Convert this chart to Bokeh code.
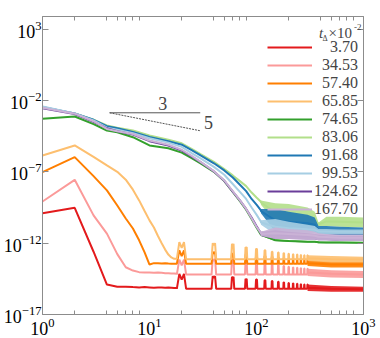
from bokeh.plotting import figure
from bokeh.models import (LogAxis, FixedTicker, Legend, LegendItem, Label, Range1d,
                          CustomJSTickFormatter)
from bokeh.embed import file_html
from bokeh.resources import INLINE

# ---------------- data (log10 of the plotted quantity) ----------------
labels = ["3.70", "34.53", "57.40", "65.85", "74.65", "83.06", "91.68", "99.53", "124.62", "167.70"]
colors = ["#e31a1c", "#fb9a99", "#ff7f00", "#fdbf6f", "#33a02c", "#b2df8a",
          "#1f78b4", "#a6cee3", "#6a3d9a", "#cab2d6"]

# lower group, smooth part
low_x = [1, 2, 3, 4, 5, 6, 7, 8, 9, 10, 11, 12, 13, 14, 15, 16, 17, 18]
red_log = [-9.9, -9.52, -12.6, -14.9, -15.05, -15.05, -15.08, -15.1, -15.08, -15.1,
           -15.12, -15.1, -15.1, -15.12, -15.1, -15.12, -15.15, -15.15]
pink_log = [-9.08, -7.56, -10.05, -11.33, -12.77, -13.69, -13.92, -14.03, -14.05, -14.05,
            -14.07, -14.06, -14.08, -14.1, -14.1, -14.12, -14.12, -14.15]
orange_log = [-7.02, -5.97, -7.3, -8.3, -9.36, -10.27, -10.97, -11.8, -12.65, -13.5,
              -13.4, -13.4, -13.42, -13.4, -13.43, -13.45, -13.45, -13.45]
lorange_log = [-5.85, -5.15, -5.95, -6.55, -7.0, -7.55, -8.25, -9.0, -9.75, -10.4,
               -10.9, -11.5, -12.0, -12.45, -12.8, -13.0, -13.1, -13.1]

# periodic spikes of the lower group
spike_x = [20, 40, 60, 80, 100, 120, 140, 160, 180, 200, 220, 240, 260, 280, 300]
spike_dip = [0.4, 0.15, 0.1, 0.05, 0.0, 0.0, 0.0, 0.0, 0.0, 0.0, 0.0, 0.0, 0.0, 0.0, 0.0]
red_base, pink_base, orange_base, lorange_base = -15.2, -14.2, -13.45, -13.12
red_peak = [-14.15, -14.3, -14.35, -14.5, -14.55, -14.6, -14.65, -14.7, -14.75, -14.8,
            -14.82, -14.85, -14.88, -14.9, -14.9]
pink_peak = [-13.15, -13.1, -13.15, -13.3, -13.4, -13.45, -13.5, -13.55, -13.6, -13.65,
             -13.7, -13.72, -13.75, -13.78, -13.8]
orange_peak = [-12.5, -12.6, -12.7, -12.8, -12.85, -12.9, -12.95, -13.0, -13.05, -13.1,
               -13.12, -13.15, -13.18, -13.2, -13.2]
lorange_peak = [-11.93, -12.0, -12.05, -12.28, -12.4, -12.5, -12.6, -12.65, -12.7, -12.75,
                -12.78, -12.8, -12.83, -12.85, -12.85]

# dense oscillation band of the lower group (envelope)
lband_x = [300, 500, 1000]
red_lo, red_hi = [-15.35, -15.4, -15.4], [-14.9, -15.0, -15.05]
pink_lo, pink_hi = [-14.3, -14.4, -14.45], [-13.8, -13.9, -13.95]
orange_lo, orange_hi = [-13.6, -13.7, -13.7], [-13.2, -13.3, -13.3]
lorange_lo, lorange_hi = [-13.25, -13.35, -13.35], [-12.85, -12.9, -12.95]

# upper group, smooth part
up_x = [1, 2, 3, 4, 5, 7, 10, 15, 20, 25, 30, 40, 50, 60, 70, 80, 90, 100, 110]
green_log = [-3.28, -3.12, -3.65, -4.1, -4.22, -4.57, -5.15, -5.35, -5.65, -6.05, -6.4,
             -7.0, -7.65, -8.4, -9.05, -9.65, -10.3, -10.9, -11.4]
lgreen_log = [-2.5, -2.9, -3.35, -3.75, -3.9, -4.1, -4.45, -4.75, -5.0, -5.4, -5.75,
              -6.3, -6.8, -7.25, -7.65, -8.0, -8.45, -8.8, -9.1]
blue_log = [-2.45, -2.9, -3.35, -3.8, -3.95, -4.2, -4.55, -4.85, -5.1, -5.5, -5.85,
            -6.4, -6.9, -7.4, -7.9, -8.35, -8.9, -9.3, -9.7]
lblue_log = [-2.42, -2.9, -3.4, -3.9, -4.05, -4.3, -4.65, -4.95, -5.25, -5.7, -6.05,
             -6.65, -7.2, -7.85, -8.4, -8.9, -9.5, -10.0, -10.5]
purple_log = [-2.55, -2.95, -3.5, -3.95, -4.15, -4.38, -4.85, -5.15, -5.5, -5.95, -6.32,
              -6.97, -7.63, -8.38, -9.0, -9.6, -10.2, -10.8, -11.3]
lavender_log = [-2.5, -2.92, -3.45, -3.99, -4.15, -4.35, -4.8, -5.1, -5.45, -5.9, -6.3,
                -6.95, -7.6, -8.35, -9.0, -9.6, -10.25, -10.85, -11.3]

# oscillation band of the upper group (envelope)
env_x = [110, 150, 200, 300, 350, 380, 450, 600, 1000]
green_lo = [-11.5, -11.85, -11.9, -11.95, -11.95, -12.0, -12.0, -12.0, -12.02]
green_hi = [-11.3, -11.75, -11.8, -11.85, -11.85, -11.88, -11.9, -11.9, -11.92]
lgreen_lo = [-9.3, -10.5, -10.7, -10.8, -10.8, -10.8, -10.8, -10.85, -10.9]
lgreen_hi = [-9.0, -9.2, -9.25, -9.5, -9.8, -10.55, -10.15, -10.15, -10.2]
blue_lo = [-9.9, -11.2, -11.2, -11.2, -11.2, -11.35, -11.4, -11.45, -11.45]
blue_hi = [-9.6, -9.6, -9.8, -10.0, -10.2, -10.8, -10.8, -10.85, -10.9]
lblue_lo = [-10.7, -11.4, -11.4, -11.35, -11.3, -11.35, -11.35, -11.35, -11.35]
lblue_hi = [-10.4, -10.3, -10.5, -10.7, -10.8, -11.0, -11.0, -11.05, -11.05]
purple_lo = [-11.5, -11.7, -11.7, -11.75, -11.75, -11.8, -11.8, -11.85, -11.85]
purple_hi = [-11.2, -11.1, -11.2, -11.3, -11.35, -11.4, -11.45, -11.5, -11.5]
lavender_lo = [-11.5, -11.7, -11.7, -11.75, -11.75, -11.8, -11.8, -11.85, -11.85]
lavender_hi = [-11.2, -10.9, -11.0, -11.1, -11.2, -11.3, -11.35, -11.4, -11.4]

# slope triangle (3/5) annotation
slope_x = [4.24, 29.8]
slope_y_top = [-2.86, -2.86]
slope_y_end = [-2.86, -4.12]

x_major = [1, 10, 100, 1000]
x_minor = [2, 4, 5, 6, 7, 8, 20, 40, 50, 60, 70, 80, 200, 400, 500, 600, 700, 800]
y_major = [1e-17, 1e-12, 1e-7, 1e-2, 1e3]

# ---------------- figure ----------------
GRAY = "#8c8c8c"
SERIF = "'Liberation Serif', 'DejaVu Serif', serif"

# frame position on the page (used for screen-unit annotations)
FRAME_L = 38
FRAME_B = 314

p = figure(x_axis_type="log", y_axis_type="log",
           x_range=Range1d(1, 1000), y_range=Range1d(1e-17, 10 ** 3.89),
           width=380, height=338,
           min_border_left=38, min_border_right=17, min_border_top=16, min_border_bottom=24,
           output_backend="svg", toolbar_location=None)
p.grid.visible = False
p.outline_line_color = GRAY
p.background_fill_color = "white"

p.add_layout(LogAxis(), "above")
p.add_layout(LogAxis(), "right")

for ax in p.xaxis:
    ax.ticker = FixedTicker(ticks=x_major, minor_ticks=x_minor)
    ax.major_tick_in = 0
for ax in p.yaxis:
    ax.ticker = FixedTicker(ticks=y_major, minor_ticks=[])
    ax.major_tick_in = 6
for ax in p.xaxis + p.yaxis:
    ax.axis_line_color = GRAY
    ax.major_tick_line_color = GRAY
    ax.minor_tick_line_color = GRAY
    ax.major_tick_out = 0
    ax.minor_tick_out = 0
    ax.minor_tick_in = 4
    ax.major_label_text_font = SERIF
    ax.major_label_text_font_size = "18px"
    ax.major_label_text_color = "black"
    ax.major_label_standoff = 3
p.left[0].major_label_standoff = 1
for ax in p.above + p.right:
    ax.formatter = CustomJSTickFormatter(code="return ''")
    ax.major_label_standoff = 0


def pw(v):
    return [10 ** a for a in v]


renderers = []

# lower group
lower = [(red_log, red_base, red_peak, red_lo, red_hi),
         (pink_log, pink_base, pink_peak, pink_lo, pink_hi),
         (orange_log, orange_base, orange_peak, orange_lo, orange_hi),
         (lorange_log, lorange_base, lorange_peak, lorange_lo, lorange_hi)]
for i, (sm, base, peaks, lo, hi) in enumerate(lower):
    xs = list(low_x)
    ys = list(sm)
    for s, pk, d in zip(spike_x, peaks, spike_dip):
        xs += [s - 2, s - 1, s, s + 1, s + 2]
        ys += [base, pk, pk - d, pk, base]
    xs += lband_x
    ys += [(a + b) / 2 for a, b in zip(lo, hi)]
    p.varea(x=lband_x, y1=pw(lo), y2=pw(hi), fill_color=colors[i], fill_alpha=0.9)
    r = p.line(xs, pw(ys), line_color=colors[i], line_width=2)
    renderers.append(r)

# upper group
upper = [(green_log, green_lo, green_hi), (lgreen_log, lgreen_lo, lgreen_hi),
         (blue_log, blue_lo, blue_hi), (lblue_log, lblue_lo, lblue_hi),
         (purple_log, purple_lo, purple_hi), (lavender_log, lavender_lo, lavender_hi)]
for j, (sm, lo, hi) in enumerate(upper):
    c = colors[4 + j]
    p.varea(x=env_x, y1=pw(lo), y2=pw(hi), fill_color=c, fill_alpha=0.9)
    xs = list(up_x) + env_x
    ys = list(sm) + [(a + b) / 2 for a, b in zip(lo, hi)]
    r = p.line(xs, pw(ys), line_color=c, line_width=2)
    renderers.append(r)

# slope triangle
p.line(slope_x, pw(slope_y_top), line_color="#555555", line_width=1)
p.line(slope_x, pw(slope_y_end), line_color="#555555", line_width=1, line_dash="2 1")
p.add_layout(Label(x=13.3, y=10 ** -2.23, text="3", text_font=SERIF, text_font_size="18px",
                   text_align="center", text_baseline="middle"))
p.add_layout(Label(x=35.6, y=10 ** -3.52, text="5", text_font=SERIF, text_font_size="18px",
                   text_align="center", text_baseline="middle"))

# legend
FS = "\u2007"
items = []
for lab, r in zip(labels, renderers):
    pad = FS * (6 - len(lab))
    items.append(LegendItem(label=pad + lab, renderers=[r]))
legend = Legend(items=items, border_line_color=None, background_fill_alpha=0,
                label_text_font=SERIF, label_text_font_size="16px",
                glyph_width=45, label_standoff=2, padding=0, margin=0, spacing=0)
try:
    legend.label_height = 16
    legend.glyph_height = 16
    legend.spacing = -3
except Exception:
    legend.spacing = 0
legend.location = (263 - FRAME_L, FRAME_B - 218)
p.add_layout(legend)

# legend title  t_Δ ×10^-2  (screen units relative to the frame's bottom-left)
def tl(px, py, text, size, align="left", style="normal"):
    p.add_layout(Label(x=px - FRAME_L, y=FRAME_B - py, x_units="screen", y_units="screen",
                       text=text, text_font=SERIF, text_font_size=size,
                       text_font_style=style, text_align=align, text_baseline="middle"))

tl(316.5, 32.5, "t", "15px", "center", "italic")
tl(320.5, 37.5, "Δ", "8px", "center")
tl(324, 32.5, "×10", "15px")
tl(349.5, 26, "-2", "9px")

open("out.html", "w").write(file_html(p, INLINE))
